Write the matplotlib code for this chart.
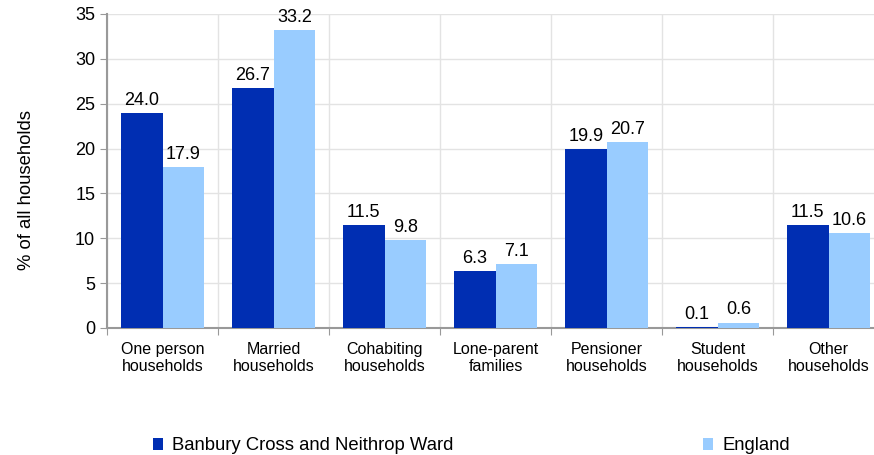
import matplotlib
matplotlib.use('Agg')
import matplotlib.pyplot as plt
import numpy as np

plt.rcParams['font.family'] = ['Liberation Sans', 'DejaVu Sans']

categories = ['One person\nhouseholds', 'Married\nhouseholds', 'Cohabiting\nhouseholds',
              'Lone-parent\nfamilies', 'Pensioner\nhouseholds', 'Student\nhouseholds',
              'Other\nhouseholds']
ward = [24.0, 26.7, 11.5, 6.3, 19.9, 0.1, 11.5]
england = [17.9, 33.2, 9.8, 7.1, 20.7, 0.6, 10.6]
ward_name = 'Banbury Cross and Neithrop Ward'
england_name = 'England'

dark = '#002EB2'
light = '#99CCFF'

fig = plt.figure(figsize=(8.74, 4.55), dpi=100)
ax = fig.add_axes([107 / 874, 1 - 328 / 455, 777 / 874, 314 / 455])

x = np.arange(len(categories))
w = 0.375
b1 = ax.bar(x - w / 2, ward, w, color=dark, label=ward_name, zorder=3)
b2 = ax.bar(x + w / 2, england, w, color=light, label=england_name, zorder=3)
ax.bar_label(b1, labels=[f'{v:.1f}' for v in ward], padding=3, fontsize=13)
ax.bar_label(b2, labels=[f'{v:.1f}' for v in england], padding=3, fontsize=13)

ax.set_xlim(-0.5, len(categories) - 0.5)
ax.set_ylim(0, 35)
ax.set_yticks(range(0, 36, 5))
ax.tick_params(axis='y', labelsize=13, length=5, color='#999999', direction='out')

# category boundaries for ticks/gridlines, labels in the middle
ax.set_xticks(np.arange(-0.5, len(categories), 1))
ax.set_xticklabels([])
ax.set_xticks(x, minor=True)
ax.set_xticklabels(categories, minor=True, fontsize=11.5)
ax.tick_params(axis='x', which='major', length=5, color='#999999')
ax.tick_params(axis='x', which='minor', length=0, pad=10)

ax.grid(True, which='major', color='#E3E3E3', linewidth=1, zorder=0)
for s in ['top', 'right']:
    ax.spines[s].set_visible(False)
for s in ['left', 'bottom']:
    ax.spines[s].set_color('#999999')
    ax.spines[s].set_linewidth(1.5)

# y label sits a bit below the axes centre in the original
fig.text(27 / 874, 1 - 190 / 455, '% of all households', rotation=90,
         ha='center', va='center', fontsize=13.3)

fig.legend(handles=[b1, b2], loc='center left', bbox_to_anchor=(136 / 874, 1 - 446 / 455),
           ncol=2, frameon=False, fontsize=13.3, handlelength=0.55, handleheight=0.55,
           handletextpad=0.5, columnspacing=13.5)

fig.savefig('out.png', dpi=100)
